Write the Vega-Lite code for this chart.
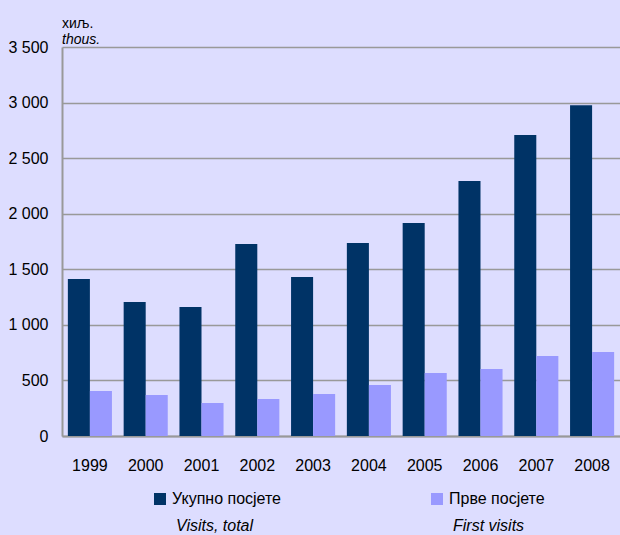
{
  "$schema": "https://vega.github.io/schema/vega-lite/v6.json",
  "autosize": "none",
  "width": 558,
  "height": 389,
  "padding": {"left": 62, "top": 47, "right": 0, "bottom": 99},
  "background": "#DDDDFF",
  "config": {
    "font": "Liberation Sans, Arial, sans-serif",
    "view": {"stroke": null, "fill": "#DDDDFF"}
  },
  "title": {
    "text": "хиљ.",
    "subtitle": "thous.",
    "anchor": "start",
    "frame": "group",
    "orient": "top",
    "offset": -8,
    "fontSize": 14,
    "fontWeight": "normal",
    "color": "#000000",
    "subtitleFontSize": 14,
    "subtitleFontStyle": "italic",
    "subtitleColor": "#000000",
    "subtitlePadding": 2
  },
  "data": {
    "values": [
      {"year": "1999", "series": "Укупно посјете", "en": "Visits, total", "value": 1413},
      {"year": "1999", "series": "Прве посјете", "en": "First visits", "value": 405},
      {"year": "2000", "series": "Укупно посјете", "en": "Visits, total", "value": 1206},
      {"year": "2000", "series": "Прве посјете", "en": "First visits", "value": 369},
      {"year": "2001", "series": "Укупно посјете", "en": "Visits, total", "value": 1161},
      {"year": "2001", "series": "Прве посјете", "en": "First visits", "value": 297},
      {"year": "2002", "series": "Укупно посјете", "en": "Visits, total", "value": 1728},
      {"year": "2002", "series": "Прве посјете", "en": "First visits", "value": 333},
      {"year": "2003", "series": "Укупно посјете", "en": "Visits, total", "value": 1431},
      {"year": "2003", "series": "Прве посјете", "en": "First visits", "value": 378},
      {"year": "2004", "series": "Укупно посјете", "en": "Visits, total", "value": 1737},
      {"year": "2004", "series": "Прве посјете", "en": "First visits", "value": 459},
      {"year": "2005", "series": "Укупно посјете", "en": "Visits, total", "value": 1917},
      {"year": "2005", "series": "Прве посјете", "en": "First visits", "value": 567},
      {"year": "2006", "series": "Укупно посјете", "en": "Visits, total", "value": 2295},
      {"year": "2006", "series": "Прве посјете", "en": "First visits", "value": 603},
      {"year": "2007", "series": "Укупно посјете", "en": "Visits, total", "value": 2709},
      {"year": "2007", "series": "Прве посјете", "en": "First visits", "value": 720},
      {"year": "2008", "series": "Укупно посјете", "en": "Visits, total", "value": 2977},
      {"year": "2008", "series": "Прве посјете", "en": "First visits", "value": 756}
    ]
  },
  "mark": {"type": "bar"},
  "encoding": {
    "x": {
      "field": "year",
      "type": "nominal",
      "scale": {"paddingInner": 0.21, "paddingOuter": 0.105},
      "axis": {
        "title": null,
        "labelAngle": 0,
        "labelFontSize": 16,
        "labelColor": "#000000",
        "labelPadding": 21,
        "ticks": false,
        "domainColor": "#999999",
        "domainWidth": 2,
        "grid": false
      }
    },
    "xOffset": {
      "field": "series",
      "type": "nominal",
      "sort": ["Укупно посјете", "Прве посјете"],
      "scale": {"paddingInner": 0, "paddingOuter": 0}
    },
    "y": {
      "field": "value",
      "type": "quantitative",
      "scale": {"domain": [0, 3500], "nice": false},
      "axis": {
        "title": null,
        "values": [0, 500, 1000, 1500, 2000, 2500, 3000, 3500],
        "labelExpr": "replace(format(datum.value, ','), ',', ' ')",
        "labelFontSize": 16,
        "labelColor": "#000000",
        "labelPadding": 14,
        "ticks": false,
        "domainColor": "#999999",
        "domainWidth": 2,
        "gridColor": "#999999",
        "gridWidth": 1.5
      }
    },
    "color": {
      "field": "series",
      "type": "nominal",
      "scale": {"domain": ["Укупно посјете", "Прве посјете"], "range": ["#003366", "#9999FF"]},
      "legend": {
        "title": null,
        "orient": "none",
        "direction": "horizontal",
        "columns": 2,
        "gridAlign": "all",
        "legendX": 90,
        "legendY": 444,
        "symbolType": "square",
        "symbolSize": 144,
        "symbolStrokeWidth": 0,
        "symbolOpacity": 1,
        "labelOffset": 4,
        "labelFontSize": 16,
        "labelColor": "#000000",
        "columnPadding": 148,
        "labelLimit": 300
      }
    },
    "opacity": {
      "field": "en",
      "type": "nominal",
      "scale": {"domain": ["Visits, total", "First visits"], "range": [1, 1]},
      "legend": {
        "title": null,
        "orient": "none",
        "direction": "horizontal",
        "columns": 2,
        "gridAlign": "all",
        "legendX": 94,
        "legendY": 471,
        "symbolType": "M-0.5,0L-0.5,0",
        "symbolSize": 144,
        "symbolStrokeWidth": 0,
        "symbolFillColor": "transparent",
        "symbolStrokeColor": "transparent",
        "labelOffset": 4,
        "labelFontSize": 16,
        "labelFontStyle": "italic",
        "labelColor": "#000000",
        "columnPadding": 179,
        "labelLimit": 300
      }
    }
  }
}
